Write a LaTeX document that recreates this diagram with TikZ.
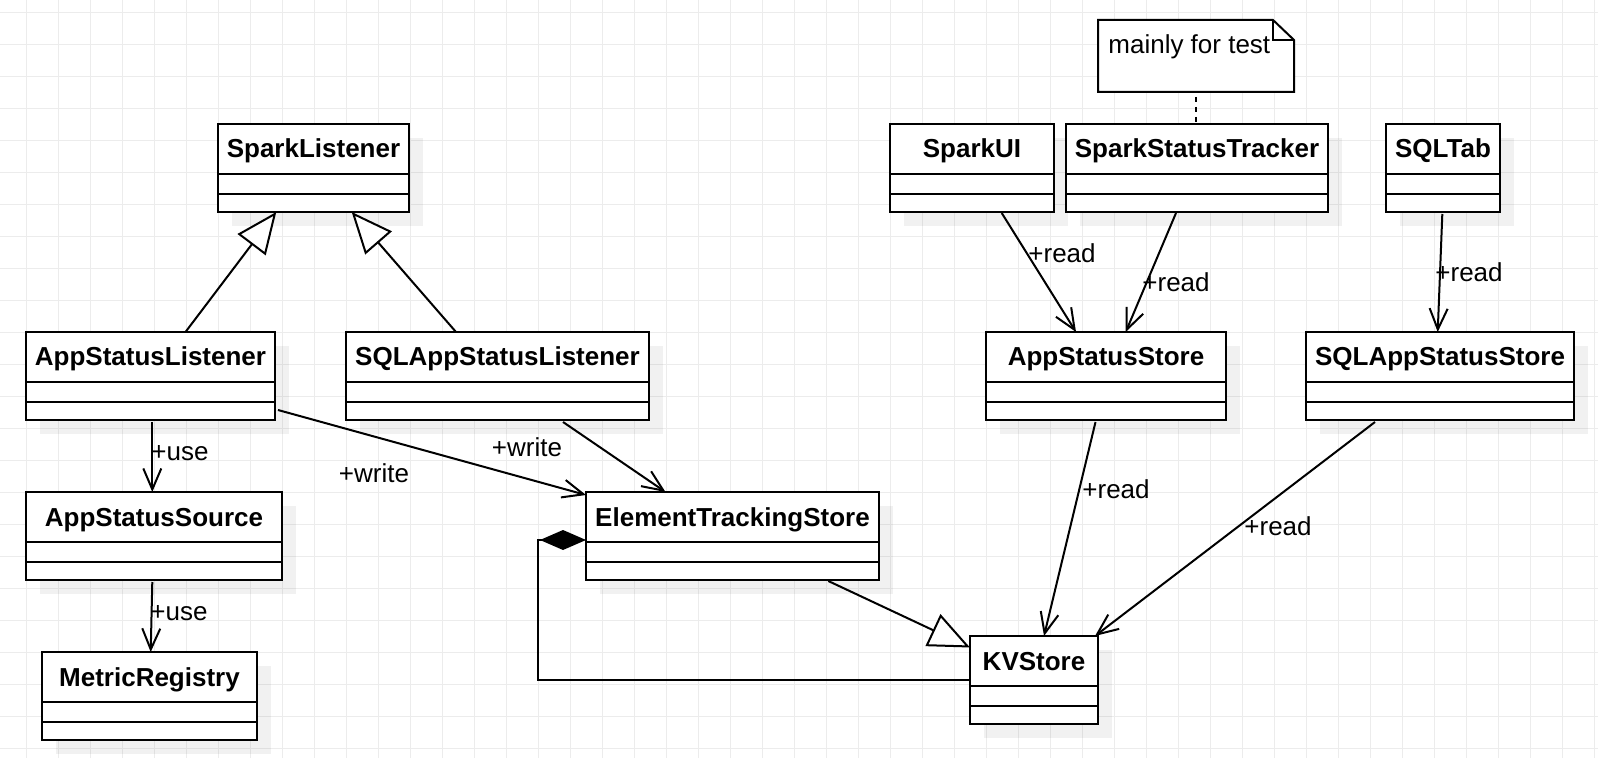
\documentclass[tikz,border=0pt]{standalone}
\usepackage{fontspec}
\setmainfont{Liberation Sans}
\usetikzlibrary{arrows.meta,calc}
\definecolor{gridc}{RGB}{236,236,236}
\tikzset{
  every node/.style={font=\fontsize{13}{15}\selectfont},
  clsbox/.style={draw, line width=1pt, fill=white, anchor=north west, minimum height=44pt, inner sep=0pt, outer sep=0pt},
  clstitle/.style={anchor=base, font=\fontsize{13}{15}\selectfont\bfseries, inner sep=0pt},
  clsshadow/.style={fill=black, opacity=0.055},
  lbl/.style={inner sep=0pt},
  assoc/.style={line width=1pt, -{Straight Barb[length=10.5pt,width=9pt]}},
  gen/.style={line width=1pt, -{Triangle[open,length=20.5pt,width=17.5pt,fill=white]}},
  comp/.style={line width=1pt, {Diamond[length=23pt,width=10pt]}-},
  notedash/.style={line width=1pt, dash pattern=on 2.5pt off 2.5pt, dash phase=2.5pt}
}
\newcommand\umlclass[5]{%
  \fill[clsshadow] (#2+14,#3+14) rectangle ++(#4,88);
  \node[clsbox, minimum width=#4*0.5pt] (#1) at (#2,#3) {};
  \node[clstitle] (#1-t) at ([yshift=-17pt]#1.north) {#5};
  \draw[line width=1pt] ([yshift=-25pt]#1.north west) -- ([yshift=-25pt]#1.north east);
  \draw[line width=1pt] ([yshift=-35pt]#1.north west) -- ([yshift=-35pt]#1.north east);
}
\begin{document}
\begin{tikzpicture}[x=0.5pt,y=-0.5pt]
\useasboundingbox (0,0) rectangle (1598,758);
\fill[white] (0,0) rectangle (1598,758);
\foreach \i in {0,...,49} \draw[gridc, line width=0.5pt] (26.7+32*\i,0) -- (26.7+32*\i,758);
\foreach \j in {0,...,23} \draw[gridc, line width=0.5pt] (0,12.3+32*\j) -- (1598,12.3+32*\j);

% note
\node[anchor=north west, minimum width=98pt, minimum height=36pt, inner sep=0pt, outer sep=0pt] (note) at (1098,20) {};
\draw[line width=1pt, fill=white] (note.north west) -- ([xshift=-10.5pt]note.north east) -- ([yshift=-10pt]note.north east) -- (note.south east) -- (note.south west) -- cycle;
\draw[line width=1pt] ([xshift=-10.5pt]note.north east) -- ([xshift=-10.5pt,yshift=-10pt]note.north east) -- ([yshift=-10pt]note.north east);
\node[anchor=base west, inner sep=0pt] (notetext) at (1108,53.5) {mainly for test};

% classes
\umlclass{sl}{218}{124}{191}{SparkListener}
\umlclass{sui}{890}{124}{164}{SparkUI}
\umlclass{sst}{1066}{124}{262}{SparkStatusTracker}
\umlclass{sqt}{1386}{124}{114}{SQLTab}
\umlclass{asl}{26}{332}{249}{AppStatusListener}
\umlclass{sqasl}{346}{332}{303}{SQLAppStatusListener}
\umlclass{ast}{986}{332}{240}{AppStatusStore}
\umlclass{sqast}{1306}{332}{268}{SQLAppStatusStore}
\umlclass{asrc}{26}{492}{256}{AppStatusSource}
\umlclass{ets}{586}{492}{293}{ElementTrackingStore}
\umlclass{mr}{42}{652}{215}{MetricRegistry}
\umlclass{kv}{970}{636}{128}{KVStore}

% note link
\draw[notedash] (note.south) -- (note.south |- sst.north);

% generalizations
\draw[gen] ($(asl.north west)+(159.5,0)$) -- ($(sl.south west)+(58.3,0)$);
\draw[gen] ($(sqasl.north west)+(110,0)$) -- ($(sl.south west)+(133.7,0)$);
\draw[gen] ($(ets.south west)+(242.3,1)$) -- ($(kv.north west)+(0,11.5)$);

% associations
\draw[assoc] ($(asl.south west)+(126.3,2)$) -- ($(asrc.north west)+(126.3,0)$);
\draw[assoc] ($(asrc.south west)+(126.3,2)$) -- ($(mr.north west)+(108.7,0)$);
\draw[assoc] ($(asl.south east)+(3,-10)$) -- ($(ets.north west)+(0,3)$);
\draw[assoc] ($(sqasl.south west)+(217,2)$) -- ($(ets.north west)+(79.5,0)$);
\draw[assoc] ($(sui.south west)+(111.7,1)$) -- ($(ast.north west)+(90,0)$);
\draw[assoc] ($(sst.south west)+(110,1)$) -- ($(ast.north west)+(139.7,0)$);
\draw[assoc] ($(sqt.south west)+(56.3,2)$) -- ($(sqast.north west)+(131.7,0)$);
\draw[assoc] ($(ast.south west)+(109.5,2)$) -- ($(kv.north west)+(74,0)$);
\draw[assoc] ($(sqast.south west)+(69,2)$) -- ($(kv.north east)+(-3,0)$);

% composition
\draw[comp] ($(ets.north west)+(0,48)$) -- ++(-48,0) |- (kv.west);

% labels
\node[lbl] (l1) at (180,453) {+use};
\node[lbl] (l2) at (179,613) {+use};
\node[lbl] (l3) at (374,473) {+write};
\node[lbl] (l4) at (527,447) {+write};
\node[lbl] (l5) at (1062,253) {+read};
\node[lbl] (l6) at (1176,282) {+read};
\node[lbl] (l7) at (1469,272) {+read};
\node[lbl] (l8) at (1116,489) {+read};
\node[lbl] (l9) at (1278,526) {+read};
\end{tikzpicture}
\end{document}
